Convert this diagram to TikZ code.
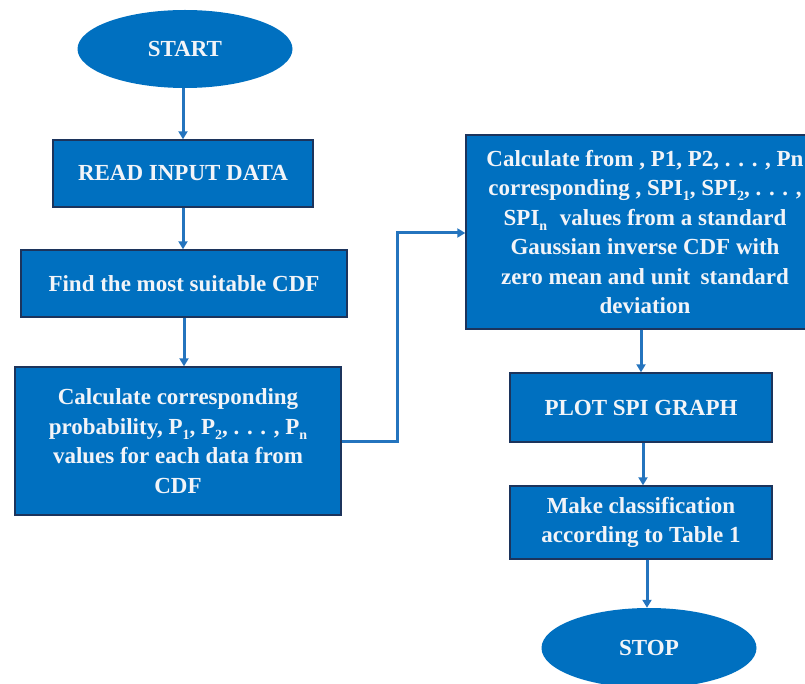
\documentclass[tikz,border=0pt]{standalone}
\usepackage{fontspec}
\usepackage{graphicx}
\setmainfont{Liberation Serif}
\usetikzlibrary{shapes.geometric,arrows.meta}

\definecolor{boxblue}{RGB}{0,112,192}
\definecolor{edgeblue}{RGB}{28,52,92}
\definecolor{linkblue}{RGB}{36,116,190}
\definecolor{labelwhite}{RGB}{242,244,248}

% lowered index for P_1, SPI_n and the like
\newcommand\lowsub[1]{\raisebox{-0.22em}{\fontsize{14}{14}\selectfont #1}}

\tikzset{
  x=1pt, y=-1pt,
  txt/.style={text=labelwhite, font=\fontsize{23}{29.5}\selectfont\bfseries, align=center, inner sep=0pt},
  stepbox/.style={txt, rectangle, fill=boxblue, draw=edgeblue, line width=1.4pt},
  terminal/.style={txt, ellipse, fill=boxblue, draw=none, inner sep=0pt},
  arr/.style={draw=linkblue, line width=3pt, -{Triangle[width=9pt,length=8pt]}},
}

\begin{document}
\begin{tikzpicture}
\useasboundingbox (0,0) rectangle (805,684);
\clip (0,0) rectangle (805,684);

% left column
\node[terminal, minimum width=215, minimum height=78] (start) at (185,49) {START};
\node[stepbox, minimum width=260, minimum height=67] (read) at (183,173.5) {READ INPUT DATA};
\node[stepbox, minimum width=326, minimum height=67] (find) at (184,283.5) {Find the most suitable CDF};
\node[stepbox, minimum width=326, minimum height=148] (calc) at (178,441)
  {Calculate corresponding\\
   probability, P\lowsub{1}, P\lowsub{2}, . . . , P\lowsub{n}\\
   values for each data from\\
   CDF};

% right column
\node[stepbox, minimum width=358, minimum height=194] (spi) at (645,232)
  {Calculate from , P1, P2, . . . , Pn\\
   corresponding , SPI\lowsub{1}, SPI\lowsub{2}, . . . ,\\
   SPI\lowsub{n}\hspace{0.3em} values from a standard\\
   Gaussian inverse CDF with\\
   zero mean and unit\hspace{0.2em} standard\\
   deviation};
\node[stepbox, minimum width=262, minimum height=69] (plot) at (641,407.5) {PLOT SPI GRAPH};
\node[stepbox, minimum width=262, minimum height=73] (classify) at (641,522.5)
  {Make classification\\ according to Table 1};
\node[terminal, minimum width=215, minimum height=80] (stop) at (649,648) {STOP};

% connectors
\coordinate (bend) at (397,233);
\draw[arr] (start.south -| read.north) -- (read.north);
\draw[arr] (read.south) -- (read.south |- find.north);
\draw[arr] (find.south) -- (find.south |- calc.north);
\draw[arr] (calc.east) -| (bend) -- (bend -| spi.west);
\draw[arr] (spi.south -| plot.north) -- (plot.north);
\draw[arr] ([xshift=2pt]plot.south) -- ([xshift=2pt]plot.south |- classify.north);
\draw[arr] ([xshift=6pt]classify.south) -- ([xshift=6pt]classify.south |- stop.north);
\end{tikzpicture}
\end{document}
